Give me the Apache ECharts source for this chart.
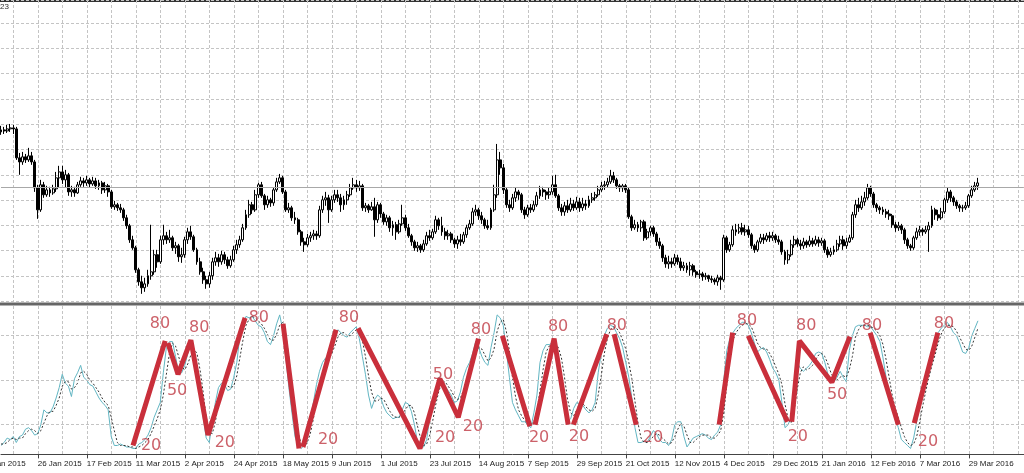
<!DOCTYPE html>
<html>
<head>
<meta charset="utf-8">
<title>EURUSD Daily - Stochastic swings</title>
<script src="https://cdn.jsdelivr.net/npm/echarts/dist/echarts.min.js"></script>
<style>
  html, body { margin: 0; padding: 0; background: #fff; }
  #chart { width: 1024px; height: 473px; }
</style>
</head>
<body>
<div id="chart"></div>
<script>
// daily bars, first bar is 8 Jan 2015; each bar opens at the prior close
var firstOpen = 1.1739;
var closes = [
  1.1755,1.1747,1.1763,1.1771,1.1763,1.1534,1.1502,1.1542,1.1518,1.1550,
  1.1502,1.1297,1.1123,1.1321,1.1242,1.1281,1.1257,1.1289,1.1376,1.1423,
  1.1360,1.1400,1.1265,1.1281,1.1257,1.1321,1.1352,1.1336,1.1360,1.1328,
  1.1352,1.1313,1.1336,1.1281,1.1313,1.1265,1.1147,1.1163,1.1139,1.1123,
  1.1060,1.0997,1.0886,1.0823,1.0649,1.0554,1.0507,1.0538,1.0602,1.0633,
  1.0768,1.0712,1.0886,1.0918,1.0886,1.0902,1.0823,1.0839,1.0752,1.0768,
  1.0886,1.0949,1.0910,1.0807,1.0712,1.0633,1.0570,1.0538,1.0602,1.0712,
  1.0744,1.0712,1.0768,1.0728,1.0681,1.0728,1.0807,1.0847,1.0886,1.0981,
  1.1084,1.1163,1.1123,1.1242,1.1321,1.1234,1.1163,1.1202,1.1178,1.1281,
  1.1344,1.1376,1.1265,1.1123,1.1139,1.1060,1.1044,1.0949,1.0870,1.0847,
  1.0902,1.0918,1.0933,1.0918,1.1123,1.1202,1.1218,1.1123,1.1202,1.1242,
  1.1218,1.1163,1.1202,1.1242,1.1297,1.1321,1.1297,1.1313,1.1139,1.1155,
  1.1123,1.1147,1.1044,1.1163,1.1091,1.1028,1.1060,1.0981,1.1005,1.0949,
  1.1012,1.1060,1.0981,1.0918,1.0870,1.0823,1.0839,1.0807,1.0854,1.0918,
  1.0902,1.0949,1.1044,1.0997,1.0949,1.0918,1.0933,1.0886,1.0854,1.0886,
  1.0870,1.0926,1.0981,1.1012,1.1107,1.1123,1.1076,1.1044,1.0997,1.0981,
  1.1123,1.1242,1.1518,1.1455,1.1281,1.1163,1.1139,1.1218,1.1265,1.1242,
  1.1123,1.1084,1.1139,1.1123,1.1163,1.1234,1.1281,1.1265,1.1242,1.1265,
  1.1321,1.1234,1.1139,1.1107,1.1155,1.1123,1.1170,1.1139,1.1186,1.1139,
  1.1170,1.1155,1.1202,1.1218,1.1242,1.1281,1.1313,1.1321,1.1344,1.1392,
  1.1360,1.1313,1.1297,1.1313,1.1281,1.1068,1.0981,1.1005,1.0981,1.1028,
  1.0902,1.0949,1.0981,1.0933,1.0870,1.0839,1.0744,1.0696,1.0712,1.0696,
  1.0744,1.0712,1.0665,1.0681,1.0649,1.0681,1.0633,1.0610,1.0617,1.0594,
  1.0602,1.0578,1.0570,1.0554,1.0586,1.0570,1.0902,1.0807,1.0847,1.0965,
  1.0949,1.0981,1.0949,1.0965,1.0926,1.0839,1.0807,1.0870,1.0902,1.0886,
  1.0918,1.0902,1.0918,1.0886,1.0870,1.0791,1.0728,1.0768,1.0847,1.0886,
  1.0854,1.0839,1.0870,1.0847,1.0878,1.0854,1.0886,1.0862,1.0878,1.0807,
  1.0768,1.0791,1.0807,1.0854,1.0886,1.0839,1.0870,1.0902,1.1084,1.1163,
  1.1139,1.1186,1.1218,1.1297,1.1249,1.1163,1.1139,1.1123,1.1107,1.1091,
  1.1076,1.1005,1.0981,1.0997,1.0965,1.0886,1.0839,1.0823,1.0902,1.0949,
  1.0965,1.0949,1.0965,1.0997,1.1123,1.1084,1.1060,1.1107,1.1202,1.1265,
  1.1218,1.1186,1.1155,1.1139,1.1139,1.1155,1.1234,1.1281,1.1313,1.1336
];
var highs = [
  1.1787,1.1779,1.1794,1.1802,1.1794,1.1779,1.1573,1.1581,1.1565,1.1613,
  1.1581,1.1518,1.1321,1.1360,1.1344,1.1313,1.1305,1.1321,1.1423,1.1471,
  1.1471,1.1439,1.1415,1.1313,1.1305,1.1344,1.1384,1.1376,1.1392,1.1376,
  1.1384,1.1376,1.1360,1.1352,1.1344,1.1328,1.1281,1.1194,1.1178,1.1170,
  1.1139,1.1084,1.1012,1.0918,1.0839,1.0665,1.0602,1.0586,1.0649,1.1005,
  1.0807,1.0807,1.0918,1.1005,1.0949,1.0965,1.0918,1.0870,1.0854,1.0823,
  1.0910,1.0981,1.0997,1.0926,1.0823,1.0744,1.0665,1.0602,1.0633,1.0744,
  1.0791,1.0775,1.0799,1.0791,1.0752,1.0760,1.0839,1.0886,1.0918,1.1012,
  1.1123,1.1202,1.1186,1.1281,1.1336,1.1344,1.1249,1.1234,1.1218,1.1297,
  1.1376,1.1407,1.1392,1.1281,1.1178,1.1155,1.1107,1.1060,1.0965,1.0902,
  1.0933,1.0949,1.0965,1.0957,1.1155,1.1234,1.1265,1.1242,1.1234,1.1281,
  1.1281,1.1249,1.1234,1.1273,1.1328,1.1376,1.1360,1.1352,1.1328,1.1178,
  1.1170,1.1186,1.1218,1.1186,1.1178,1.1107,1.1084,1.1076,1.1036,1.1028,
  1.1044,1.1163,1.1084,1.1012,1.0933,1.0886,1.0870,1.0854,1.0886,1.0949,
  1.0965,1.0973,1.1076,1.1060,1.1068,1.0981,1.0965,1.0949,1.0902,1.0918,
  1.0933,1.0949,1.1005,1.1044,1.1139,1.1163,1.1139,1.1107,1.1060,1.1044,
  1.1139,1.1321,1.1644,1.1581,1.1486,1.1297,1.1202,1.1249,1.1297,1.1281,
  1.1257,1.1147,1.1163,1.1170,1.1194,1.1265,1.1313,1.1305,1.1281,1.1297,
  1.1392,1.1400,1.1249,1.1170,1.1186,1.1202,1.1218,1.1202,1.1226,1.1218,
  1.1218,1.1202,1.1234,1.1257,1.1265,1.1313,1.1344,1.1352,1.1376,1.1439,
  1.1423,1.1376,1.1328,1.1328,1.1328,1.1297,1.1084,1.1044,1.1028,1.1044,
  1.1044,1.0973,1.0997,1.0997,1.0949,1.0902,1.0854,1.0768,1.0760,1.0744,
  1.0775,1.0768,1.0744,1.0712,1.0704,1.0712,1.0696,1.0649,1.0649,1.0633,
  1.0625,1.0610,1.0602,1.0586,1.0610,1.0602,1.0926,1.0918,1.0870,1.0997,
  1.1012,1.1012,1.1020,1.1005,1.0997,1.0941,1.0854,1.0886,1.0933,1.0933,
  1.0941,1.0949,1.0949,1.0933,1.0918,1.0886,1.0807,1.0807,1.0886,1.0918,
  1.0902,1.0886,1.0902,1.0886,1.0918,1.0902,1.0918,1.0910,1.0902,1.0894,
  1.0831,1.0823,1.0839,1.0886,1.0918,1.0918,1.0902,1.0926,1.1107,1.1202,
  1.1218,1.1234,1.1265,1.1328,1.1313,1.1265,1.1178,1.1155,1.1147,1.1131,
  1.1123,1.1091,1.1028,1.1028,1.1012,1.0981,1.0902,1.0854,1.0918,1.0981,
  1.0997,1.0981,1.0997,1.1028,1.1155,1.1139,1.1123,1.1139,1.1218,1.1297,
  1.1281,1.1234,1.1202,1.1170,1.1163,1.1186,1.1249,1.1313,1.1344,1.1376
];
var lows = [
  1.1716,1.1723,1.1731,1.1739,1.1723,1.1518,1.1400,1.1479,1.1494,1.1502,
  1.1479,1.1265,1.1052,1.1107,1.1218,1.1226,1.1226,1.1242,1.1265,1.1297,
  1.1328,1.1297,1.1234,1.1226,1.1226,1.1249,1.1305,1.1305,1.1313,1.1297,
  1.1313,1.1289,1.1281,1.1249,1.1257,1.1226,1.1131,1.1123,1.1115,1.1099,
  1.1036,1.0973,1.0862,1.0807,1.0625,1.0523,1.0459,1.0475,1.0515,1.0570,
  1.0610,1.0665,1.0696,1.0847,1.0854,1.0862,1.0799,1.0775,1.0712,1.0704,
  1.0744,1.0854,1.0886,1.0791,1.0689,1.0610,1.0538,1.0499,1.0507,1.0570,
  1.0681,1.0673,1.0689,1.0696,1.0657,1.0665,1.0712,1.0775,1.0823,1.0870,
  1.0965,1.1060,1.1091,1.1107,1.1218,1.1218,1.1123,1.1139,1.1147,1.1155,
  1.1265,1.1328,1.1249,1.1107,1.1099,1.1036,1.1012,1.0926,1.0839,1.0791,
  1.0831,1.0870,1.0886,1.0886,1.0902,1.1099,1.1155,1.1020,1.1107,1.1178,
  1.1186,1.1107,1.1123,1.1163,1.1226,1.1281,1.1265,1.1273,1.1115,1.1107,
  1.1099,1.1115,1.0910,1.1020,1.1060,1.1005,1.0997,1.0949,1.0918,1.0886,
  1.0933,1.0997,1.0957,1.0902,1.0839,1.0799,1.0791,1.0783,1.0791,1.0839,
  1.0878,1.0886,1.0933,1.0965,1.0918,1.0886,1.0886,1.0862,1.0823,1.0815,
  1.0839,1.0854,1.0902,1.0965,1.0997,1.1076,1.1044,1.1012,1.0973,1.0965,
  1.0965,1.1107,1.1218,1.1400,1.1249,1.1139,1.1107,1.1123,1.1186,1.1202,
  1.1099,1.1052,1.1068,1.1099,1.1107,1.1147,1.1210,1.1226,1.1202,1.1210,
  1.1242,1.1218,1.1115,1.1076,1.1076,1.1099,1.1107,1.1115,1.1123,1.1107,
  1.1115,1.1123,1.1139,1.1178,1.1194,1.1226,1.1265,1.1281,1.1297,1.1328,
  1.1336,1.1289,1.1265,1.1265,1.1257,1.1052,1.0957,1.0965,1.0949,1.0949,
  1.0878,1.0886,1.0918,1.0910,1.0839,1.0815,1.0712,1.0665,1.0657,1.0665,
  1.0681,1.0689,1.0641,1.0641,1.0625,1.0602,1.0602,1.0586,1.0578,1.0562,
  1.0570,1.0554,1.0546,1.0531,1.0523,1.0491,1.0554,1.0783,1.0791,1.0831,
  1.0918,1.0933,1.0926,1.0918,1.0902,1.0815,1.0783,1.0791,1.0854,1.0854,
  1.0870,1.0870,1.0878,1.0862,1.0847,1.0768,1.0689,1.0696,1.0752,1.0823,
  1.0831,1.0807,1.0815,1.0823,1.0831,1.0831,1.0839,1.0831,1.0839,1.0783,
  1.0744,1.0752,1.0768,1.0791,1.0831,1.0807,1.0815,1.0862,1.0886,1.1060,
  1.1107,1.1123,1.1155,1.1202,1.1226,1.1139,1.1107,1.1091,1.1084,1.1060,
  1.1044,1.0981,1.0949,1.0957,1.0933,1.0854,1.0815,1.0799,1.0807,1.0886,
  1.0918,1.0918,1.0933,1.0791,1.0981,1.1044,1.1036,1.1044,1.1091,1.1178,
  1.1186,1.1155,1.1131,1.1107,1.1107,1.1123,1.1139,1.1218,1.1265,1.1281
];

// stochastic main line (%K) and signal (%D), one value per bar
var stochK = [
  6,8,11,10,12,8,12,13,17,18, 16,13,14,20,30,28,28,32,38,45,
  54,48,46,39,51,55,60,52,50,47, 46,42,38,35,33,30,12,6,6,7,
  6,5,5,4,4,7,8,10,13,18, 25,30,35,55,72,76,76,66,55,55,
  60,68,74,70,60,40,25,11,8,22, 35,45,48,47,43,44,52,62,80,88,
  93,92,93,90,87,86,82,76,74,80, 88,94,84,65,45,28,12,6,4,6,
  13,24,35,47,56,62,65,66,72,80, 84,82,80,79,82,84,86,78,66,54,
  40,31,37,40,38,32,28,26,24,25, 25,30,35,34,29,20,8,5,5,10,
  25,33,45,52,48,46,43,40,35,36, 42,52,58,62,68,76,72,66,62,60,
  72,82,94,92,87,70,52,35,30,26, 22,22,20,18,28,40,62,70,74,74,
  75,76,66,52,38,22,24,31,35,34, 33,30,28,30,35,55,68,80,85,87,
  86,82,78,72,62,52,38,18,8,8, 9,8,12,16,14,10,8,8,6,10,
  20,22,22,12,5,8,11,12,13,14, 13,11,10,13,15,20,50,70,78,82,
  85,87,89,89,87,82,75,69,71,72, 69,64,58,55,50,35,18,20,25,45,
  62,58,56,58,60,63,68,69,68,62, 54,50,49,52,56,52,49,70,80,86,
  87,87,87,86,86,83,80,76,65,52, 38,31,25,18,10,8,6,4,11,22,
  33,45,52,60,67,75,82,85,87,89, 86,82,80,75,69,68,72,80,85,90
];
var stochD = [
  7,7,8,10,11,10,11,11,14,16, 17,16,14,16,21,26,29,29,33,38,
  46,49,49,44,45,48,55,56,54,50, 48,45,42,38,35,33,25,16,8,6,
  6,6,5,5,4,5,6,8,10,14, 19,24,30,40,54,68,75,73,66,59,
  57,61,67,71,68,57,42,25,15,14, 22,34,43,47,46,45,46,53,65,77,
  87,91,93,92,90,88,85,81,77,77, 81,87,89,81,65,46,28,15,7,5,
  8,14,24,35,46,55,61,64,68,73, 79,82,82,80,80,82,84,83,77,66,
  53,42,36,36,38,37,33,29,26,25, 25,27,30,33,33,28,19,11,6,7,
  13,23,34,43,48,49,46,43,39,37, 38,43,51,57,63,69,72,71,67,63,
  65,71,83,89,91,83,70,52,39,30, 26,23,21,20,22,29,43,57,69,73,
  74,75,72,65,52,37,28,26,30,33, 34,32,30,29,31,40,53,68,78,84,
  86,85,82,77,71,62,51,36,21,11, 8,8,10,12,14,13,11,9,7,8,
  12,17,21,19,13,8,8,10,12,13, 13,13,11,11,13,16,28,47,66,77,
  82,85,87,88,88,86,81,75,72,71, 71,68,64,59,54,47,34,24,21,30,
  44,55,59,57,58,60,64,67,68,66, 61,55,51,50,52,53,52,57,66,79,
  84,87,87,87,86,85,83,80,74,64, 52,40,31,25,18,12,8,6,7,12,
  22,33,43,52,60,67,75,81,85,87, 87,86,83,79,75,71,70,73,79,85
];
var levels = [20, 50, 80];

// hand-drawn swing lines: [bar, stochastic value]
var zigzagSegments = [
  [[43.1, 6], [53.6, 76.5]],
  [[54.5, 75], [57.8, 54], [62, 77], [67.6, 13], [79.7, 92]],
  [[92.1, 88], [97.3, 4]],
  [[98.6, 5], [109.4, 84]],
  [[116.6, 85], [136.8, 4], [143.3, 51], [149.3, 25], [155.9, 78]],
  [[163.7, 80], [172.7, 19]],
  [[174.4, 20], [180.6, 78], [185.2, 20]],
  [[186.9, 20], [197.8, 81]],
  [[200.2, 81], [207.4, 20]],
  [[234.5, 20], [238.9, 82]],
  [[244, 80], [256.8, 22]],
  [[258.2, 22], [260.7, 76.5], [271.3, 48.6], [277.2, 79.4]],
  [[283.8, 82], [293, 20]],
  [[298.2, 21], [305.9, 82]]
];
var zigzagLabels = [
  [51.9, 88, '80'], [49, 6, '20'], [57.5, 43, '50'], [64.7, 85, '80'], [73.1, 8, '20'], [84.2, 92, '80'],
  [106.8, 10, '20'], [113.6, 92, '80'], [144.3, 53.5, '50'], [145, 11, '20'], [154.1, 18.5, '20'], [156.7, 84, '80'],
  [175.7, 11, '20'], [181.9, 86, '80'], [188.7, 11.7, '20'], [201.1, 86.6, '80'], [212.9, 11, '20'],
  [243.6, 90, '80'], [262.9, 86.6, '80'], [260.2, 11.7, '20'], [273, 40, '50'], [284.4, 86.6, '80'],
  [302.7, 8.4, '20'], [307.9, 88, '80']
];

var months = ['Jan','Feb','Mar','Apr','May','Jun','Jul','Aug','Sep','Oct','Nov','Dec'];
var holidays = ['2015-12-25', '2016-01-01'];
var firstDay = Date.UTC(2015, 0, 8);
var dayCount = 335;
var firstTickLabel = '2 Jan 2015';   // label of the tick just left of the first bar

var dates = [];
var d = new Date(firstDay);
while (dates.length < dayCount) {
  var iso = d.toISOString().slice(0, 10);
  var wd = d.getUTCDay();
  if (wd !== 0 && wd !== 6 && holidays.indexOf(iso) < 0) dates.push(iso);
  d.setUTCDate(d.getUTCDate() + 1);
}

function dateLabel(iso) {
  var p = iso.split('-');
  return (+p[2]) + ' ' + months[+p[1] - 1] + ' ' + p[0];
}

var candles = dates.map(function (x, i) {
  if (i >= closes.length) return '-';
  var o = i ? closes[i - 1] : firstOpen;
  return [o, closes[i], lows[i], highs[i]];
});
function padded(arr) {
  return dates.map(function (x, i) { return i < arr.length ? arr[i] : '-'; });
}
var zigzagData = [];
zigzagSegments.forEach(function (seg) {
  seg.forEach(function (p) { zigzagData.push(p); });
  zigzagData.push(null);
});

var barStep = 3.0625;
var gridLeft = 1;
var gridWidth = (dates.length - 1) * barStep;
var gridStyle = { color: '#c4c4c4', type: [3, 2], width: 1 };
function gridEvery(idx) { return idx % 8 === 4; }
function labelEvery(idx) { return idx % 16 === 12 && idx < dates.length - 14; }

var chart = echarts.init(document.getElementById('chart'));
var option = {
  animation: false,
  backgroundColor: '#fff',
  grid: [
    { left: gridLeft, top: 0, width: gridWidth, height: 301.3 },
    { left: gridLeft, top: 306, width: gridWidth, height: 148.4 }
  ],
  xAxis: [
    {
      type: 'category', gridIndex: 0, data: dates, boundaryGap: false,
      axisLine: { show: false }, axisTick: { show: false }, axisLabel: { show: false },
      splitLine: { show: true, interval: gridEvery, lineStyle: gridStyle }
    },
    {
      type: 'category', gridIndex: 1, data: dates, boundaryGap: false,
      axisLine: { lineStyle: { color: '#444', width: 1 } },
      axisTick: { show: true, interval: labelEvery, length: 4, lineStyle: { color: '#444' } },
      axisLabel: {
        interval: labelEvery, formatter: dateLabel, align: 'left', margin: 5,
        fontSize: 8, fontFamily: 'Liberation Sans', color: '#1a1a1a'
      },
      splitLine: { show: true, interval: gridEvery, lineStyle: gridStyle }
    },
    { type: 'value', gridIndex: 1, min: 0, max: dates.length - 1, show: false }
  ],
  yAxis: [
    {
      type: 'value', gridIndex: 0, min: 1.04, max: 1.2782, interval: 0.02,
      axisLabel: { show: false }, axisLine: { show: false }, axisTick: { show: false },
      splitLine: { lineStyle: gridStyle }
    },
    {
      type: 'value', gridIndex: 1, min: 0, max: 100,
      axisLabel: { show: false }, axisLine: { show: false }, axisTick: { show: false },
      splitLine: { show: false }
    }
  ],
  series: [
    {
      name: 'EURUSD', type: 'candlestick', xAxisIndex: 0, yAxisIndex: 0,
      data: candles, barWidth: 2.4,
      itemStyle: { color: '#fff', color0: '#000', borderColor: '#000', borderColor0: '#000', borderWidth: 1 },
      markLine: {
        silent: true, symbol: ['none', 'none'], label: { show: false },
        lineStyle: { color: '#a8a8a8', type: 'solid', width: 1 },
        data: [{ yAxis: closes[closes.length - 1] }]
      }
    },
    {
      name: '%K', type: 'line', xAxisIndex: 1, yAxisIndex: 1,
      data: padded(stochK), symbol: 'none',
      lineStyle: { color: '#62b6c3', width: 1 },
      markLine: {
        silent: true, symbol: ['none', 'none'], label: { show: false },
        lineStyle: gridStyle,
        data: levels.map(function (v) { return { yAxis: v }; })
      }
    },
    {
      name: '%D', type: 'line', xAxisIndex: 1, yAxisIndex: 1,
      data: padded(stochD), symbol: 'none',
      lineStyle: { color: '#333', width: 1, type: [2, 2] }
    },
    {
      name: 'swings', type: 'line', xAxisIndex: 2, yAxisIndex: 1,
      data: zigzagData, symbol: 'none', connectNulls: false, z: 5,
      lineStyle: { color: '#c92f3b', width: 5 }
    },
    {
      name: 'levels', type: 'scatter', xAxisIndex: 2, yAxisIndex: 1,
      data: zigzagLabels, symbolSize: 1, z: 6,
      itemStyle: { color: 'rgba(0,0,0,0)' },
      label: {
        show: true, position: 'inside', color: '#bf3944',
        fontSize: 16, fontFamily: 'DejaVu Sans',
        formatter: function (p) { return p.data[2]; }
      }
    }
  ],
  graphic: [
    { type: 'rect', shape: { x: 0, y: 0, width: 1024, height: 2 }, style: { fill: '#333' }, silent: true },
    { type: 'rect', shape: { x: 0, y: 302.5, width: 1024, height: 3 }, style: { fill: '#666' }, silent: true },
    { type: 'text', x: 0, y: 3, style: { text: '23', fontSize: 8, fill: '#333', fontFamily: 'Liberation Sans' }, silent: true },
    { type: 'text', x: -14, y: 459.5, style: { text: firstTickLabel, fontSize: 8, fill: '#1a1a1a', fontFamily: 'Liberation Sans' }, silent: true }
  ]
};
chart.setOption(option);
</script>
</body>
</html>
